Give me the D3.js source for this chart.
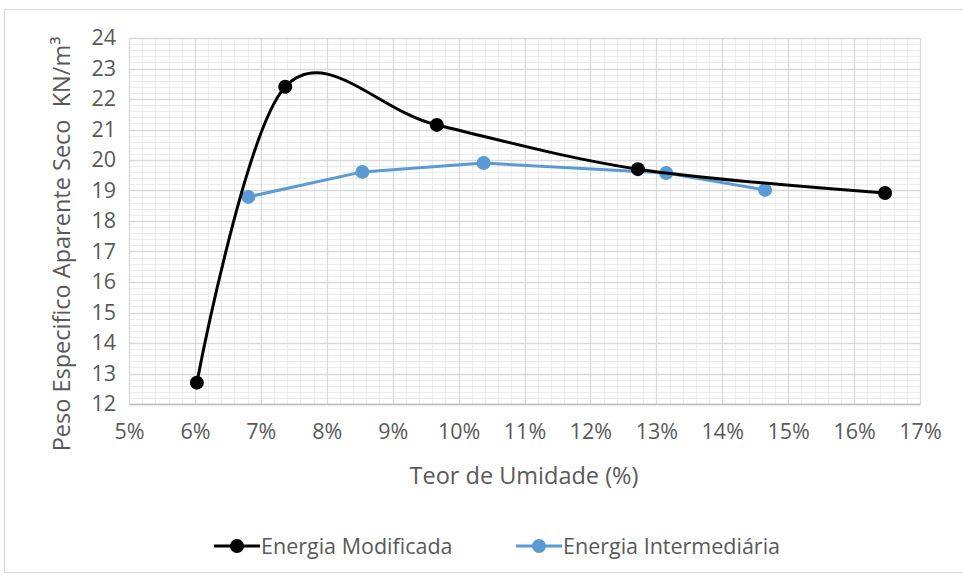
<!DOCTYPE html>
<html><head><meta charset="utf-8">
<script src="https://cdn.jsdelivr.net/npm/d3@7"></script>
<style>body{margin:0;background:#fff}svg{display:block}text{font-family:"Open Sans",sans-serif;fill:#595959}</style>
</head><body><svg id="c" width="963" height="579"></svg>
<script>
const modX = [6.03, 7.37, 9.67, 12.72, 16.47];
const modY = [12.7, 22.4, 21.15, 19.7, 18.92];
const intX = [6.81, 8.54, 10.38, 13.15, 14.65];
const intY = [18.79, 19.61, 19.9, 19.57, 19.02];
const xTicks = [5,6,7,8,9,10,11,12,13,14,15,16,17];
const yTicks = [12,13,14,15,16,17,18,19,20,21,22,23,24];
const seriesNames = ["Energia Modificada", "Energia Intermediária"];

const svg = d3.select("#c");
svg.append("rect").attr("x",4.5).attr("y",9.5).attr("width",962).attr("height",563)
  .attr("fill","#fff").attr("stroke","#d9d9d9");
const L=129,R=920,T=38,B=404;
const x=d3.scaleLinear().domain([5,17]).range([L,R]);
const y=d3.scaleLinear().domain([12,24]).range([B,T]);
const g=svg.append("g");
const minorX=d3.range(5,17.001,0.2), minorY=d3.range(12,24.001,0.2);
g.selectAll(".mx").data(minorX).enter().append("line")
  .attr("x1",d=>Math.round(x(d))+0.5).attr("x2",d=>Math.round(x(d))+0.5).attr("y1",T).attr("y2",B)
  .attr("stroke","#ececec").attr("stroke-width",1);
g.selectAll(".my").data(minorY).enter().append("line")
  .attr("y1",d=>Math.round(y(d))+0.5).attr("y2",d=>Math.round(y(d))+0.5).attr("x1",L).attr("x2",R)
  .attr("stroke","#ececec").attr("stroke-width",1);
g.selectAll(".Mx").data(xTicks).enter().append("line")
  .attr("x1",d=>Math.round(x(d))+0.5).attr("x2",d=>Math.round(x(d))+0.5).attr("y1",T).attr("y2",B)
  .attr("stroke","#d9d9d9").attr("stroke-width",1.3);
g.selectAll(".My").data(yTicks).enter().append("line")
  .attr("y1",d=>Math.round(y(d))+0.5).attr("y2",d=>Math.round(y(d))+0.5).attr("x1",L).attr("x2",R)
  .attr("stroke","#d9d9d9").attr("stroke-width",1.3);

const xa=svg.append("g").attr("transform",`translate(0,${B})`)
  .call(d3.axisBottom(x).tickValues(xTicks).tickSize(0).tickPadding(20).tickFormat(d=>d+"%"));
xa.select(".domain").attr("stroke","#bfbfbf").attr("stroke-width",1.3);
xa.selectAll("text").attr("font-size",21.5).style("fill","#595959").style("font-family","'Open Sans',sans-serif");
const ya=svg.append("g").attr("transform",`translate(${L},0)`)
  .call(d3.axisLeft(y).tickValues(yTicks).tickSize(0).tickPadding(13));
ya.select(".domain").attr("stroke","#d9d9d9");
ya.selectAll("text").attr("font-size",21.5).style("fill","#595959").style("font-family","'Open Sans',sans-serif");

svg.append("text").attr("x",524).attr("y",484).attr("text-anchor","middle").attr("font-size",23.5).text("Teor de Umidade (%)");
svg.append("text").attr("transform","translate(70,244) rotate(-90)").attr("text-anchor","middle").attr("font-size",23.5)
  .attr("xml:space","preserve").text("Peso Especifico Aparente Seco  KN/m³");

const mod=modX.map((v,i)=>[v,modY[i]]);
const inter=intX.map((v,i)=>[v,intY[i]]);
const blue="#5b9bd5";
svg.append("path").datum(inter).attr("fill","none").attr("stroke",blue).attr("stroke-width",3)
  .attr("d",d3.line().x(d=>x(d[0])).y(d=>y(d[1])));
svg.selectAll(".pi").data(inter).enter().append("circle").attr("cx",d=>x(d[0])).attr("cy",d=>y(d[1])).attr("r",7).attr("fill",blue);
svg.append("path").datum(mod).attr("fill","none").attr("stroke","#000").attr("stroke-width",3)
  .attr("d",d3.line().curve(d3.curveCardinal.tension(0)).x(d=>x(d[0])).y(d=>y(d[1])));
svg.selectAll(".pm").data(mod).enter().append("circle").attr("cx",d=>x(d[0])).attr("cy",d=>y(d[1])).attr("r",7).attr("fill","#000");

const lg=[{name:seriesNames[0],c:"#000",x:214},{name:seriesNames[1],c:blue,x:516}];
lg.forEach(l=>{
  svg.append("line").attr("x1",l.x).attr("x2",l.x+46).attr("y1",546).attr("y2",546).attr("stroke",l.c).attr("stroke-width",3);
  svg.append("circle").attr("cx",l.x+23).attr("cy",546).attr("r",7).attr("fill",l.c);
  svg.append("text").attr("x",l.x+47).attr("y",553.5).attr("font-size",21.5).text(l.name);
});
</script></body></html>
